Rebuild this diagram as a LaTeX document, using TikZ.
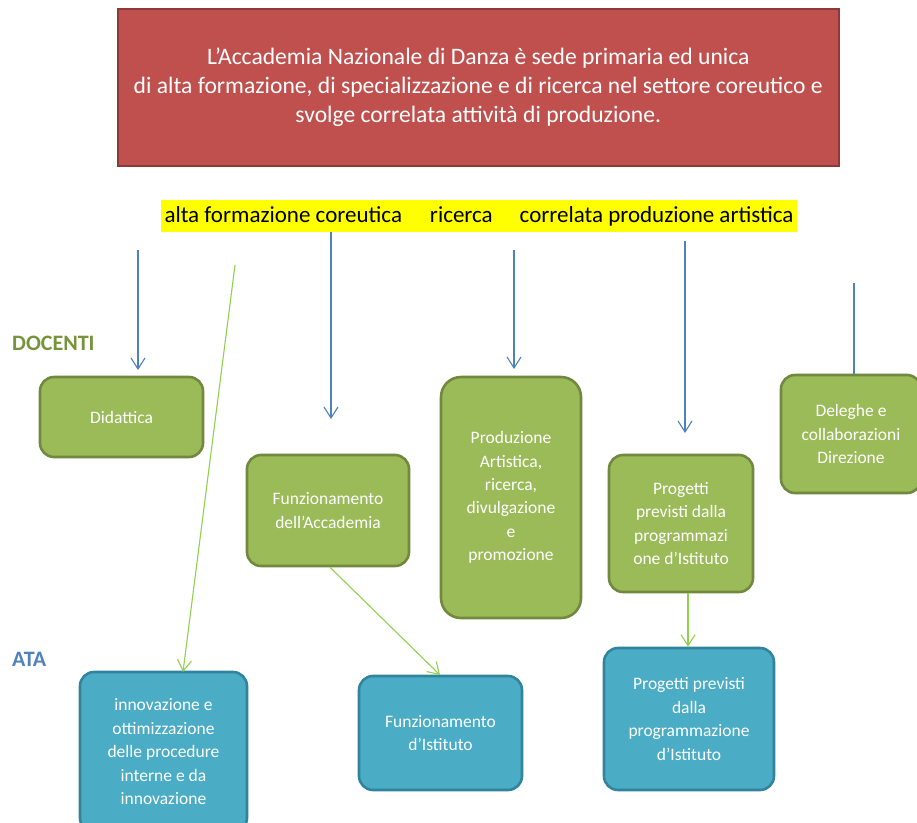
\documentclass[tikz,border=0pt]{standalone}
\usepackage{fontspec}
\setmainfont{Carlito}
\usetikzlibrary{arrows.meta}
\definecolor{hdrred}{HTML}{C0504D}
\definecolor{hdrborder}{HTML}{8C3A38}
\definecolor{grfill}{HTML}{9BBB59}
\definecolor{grborder}{HTML}{71893F}
\definecolor{blfill}{HTML}{4BACC6}
\definecolor{blborder}{HTML}{31849B}
\definecolor{arrblue}{HTML}{4F81BD}
\definecolor{lgreen}{HTML}{92D050}
\definecolor{docgreen}{HTML}{77933C}
\definecolor{hlyellow}{HTML}{FFFF00}
\tikzset{
  greenbox/.style={draw=grborder, line width=2.6pt, fill=grfill, rounded corners=14pt,
    text=white, align=center, font=\fontsize{17.5}{23.3}\selectfont, inner sep=2pt},
  bluebox/.style={draw=blborder, line width=2.6pt, fill=blfill, rounded corners=14pt,
    text=white, align=center, font=\fontsize{17.5}{23.5}\selectfont, inner sep=2pt},
  bluearrow/.style={draw=arrblue, line width=1.1pt, -{Straight Barb[length=11pt,width=14pt,line width=1.1pt]}},
  greenarrow/.style={draw=lgreen, line width=1.1pt, -{Straight Barb[length=11pt,width=14pt,line width=1.1pt]}},
  plainblue/.style={draw=arrblue, line width=1.1pt},
}
\begin{document}
\begin{tikzpicture}[x=1pt,y=-1pt]
\useasboundingbox (0,0) rectangle (917,822);
\fill[white] (0,0) rectangle (917,822);

% header
\node[draw=hdrborder, line width=1.5pt, fill=hdrred, minimum width=721pt, minimum height=157pt,
  text=white, align=center, font=\fontsize{23.6}{29}\selectfont, anchor=north west]
  (hdr) at (117,8) {L'Accademia Nazionale di Danza è sede primaria ed unica\\
  di alta formazione, di specializzazione e di ricerca nel settore coreutico e\\
  svolge correlata attività di produzione.};

% highlighted line
\node[fill=hlyellow, inner sep=0pt, inner xsep=4pt, minimum height=32pt, font=\fontsize{23}{26}\selectfont, anchor=center]
  (hl) at (479,216) {alta formazione coreutica\hspace{28pt}ricerca\hspace{27pt}correlata produzione artistica};

% side labels
\node[text=docgreen, font=\fontsize{22}{24}\selectfont\bfseries, anchor=west, inner sep=0pt] (doc) at (12,343) {DOCENTI};
\node[text=arrblue, font=\fontsize{22}{24}\selectfont\bfseries, anchor=west, inner sep=0pt] (ata) at (12,659) {ATA};

% green boxes
\node[greenbox, minimum width=163pt, minimum height=80pt] (did) at (121.5,417) {Didattica};
\node[greenbox, minimum width=162pt, minimum height=111pt] (fun) at (328,510.5) {Funzionamento\\dell'Accademia};
\node[greenbox, rounded corners=20pt, minimum width=140pt, minimum height=241pt] (pro) at (511,497.5) {Produzione\\Artistica,\\ricerca,\\divulgazione\\e\\promozione};
\node[greenbox, minimum width=144pt, minimum height=137pt] (prg) at (681,523.5) {Progetti\\previsti dalla\\programmazi\\one d'Istituto};
\node[greenbox, minimum width=140pt, minimum height=118pt] (del) at (851,434) {Deleghe e\\collaborazioni\\Direzione};

% blue boxes
\node[bluebox, minimum width=167pt, minimum height=160pt] (inn) at (163.5,752) {innovazione e\\ottimizzazione\\delle procedure\\interne e da\\innovazione};
\node[bluebox, minimum width=163pt, minimum height=114pt] (fis) at (440.5,733) {Funzionamento\\d'Istituto};
\node[bluebox, minimum width=170pt, minimum height=142pt] (pis) at (689,719) {Progetti previsti\\dalla\\programmazione\\d'Istituto};

% connector coordinates
\coordinate (a1s) at (138,250);  \coordinate (a1e) at (138,370);
\coordinate (a2s) at (331,232);  \coordinate (a2e) at (331,419);
\coordinate (a3s) at (514,250);  \coordinate (a3e) at (514,369);
\coordinate (a4s) at (685,241);  \coordinate (a4e) at (685,433);
\coordinate (a5s) at (854,283);
\coordinate (g1s) at (235,265);  \coordinate (g1e) at (183,672);
\coordinate (g2e) at (440,675);

\draw[bluearrow] (a1s) -- (a1e);
\draw[bluearrow] (a2s) -- (a2e);
\draw[bluearrow] (a3s) -- (a3e);
\draw[bluearrow] (a4s) -- (a4e);
\draw[plainblue] (a5s) -- (a5s |- del.north);

% green connectors
\draw[greenarrow] (g1s) -- (g1e);
\draw[greenarrow] ([xshift=2pt]fun.south) -- (g2e);
\draw[greenarrow] ([xshift=7pt]prg.south) -- ([xshift=7pt]prg.south |- pis.north);
\end{tikzpicture}
\end{document}
